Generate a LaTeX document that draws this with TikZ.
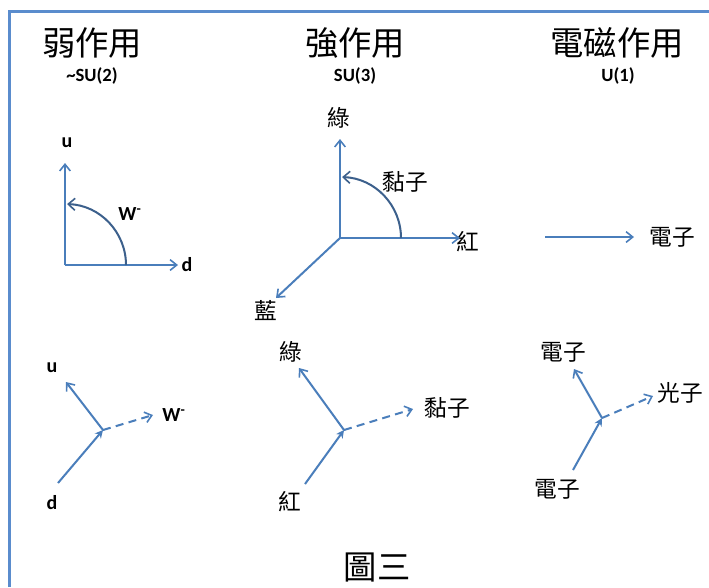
\documentclass[tikz,border=0pt]{standalone}
\usepackage{fontspec}
\setmainfont{Carlito}
\newfontfamily\cjk{Noto Sans CJK TC}
\usetikzlibrary{arrows.meta}
\definecolor{lineblue}{RGB}{74,126,187}
\definecolor{arcblue}{RGB}{60,96,140}
\definecolor{frameblue}{RGB}{90,140,205}
\tikzset{
  vec/.style={draw=lineblue, line width=1.5pt, -{Straight Barb[length=5pt,width=8pt,line width=1.2pt]}},
  vin/.style={draw=lineblue, line width=1.5pt, -{Stealth[length=6pt,width=6pt]}},
  dvec/.style={vec, dash pattern=on 6pt off 4pt},
  arcvec/.style={draw=arcblue, line width=1.5pt, -{Straight Barb[length=5pt,width=9pt,line width=1.2pt]}},
  title/.style={font=\cjk\fontsize{25}{28}\selectfont, inner sep=0pt},
  sub/.style={font=\bfseries\fontsize{14}{16}\selectfont, inner sep=0pt},
  lat/.style={font=\bfseries\fontsize{15}{17}\selectfont, inner sep=0pt},
  zh/.style={font=\cjk\fontsize{17}{19}\selectfont, inner sep=0pt},
}
\begin{document}
\begin{tikzpicture}[x=0.75pt,y=-0.75pt]
\useasboundingbox (0,0) rectangle (709,587);
\fill[white] (0,0) rectangle (709,587);
% frame
\coordinate (fb) at (9.5,587);
\coordinate (fc) at (9.5,11.5);
\coordinate (fr) at (709,11.5);
\draw[frameblue, line width=1.8pt] (fb) -- (fc) -- (fr);

% titles
\node[title] (t1) at (92,43) {弱作用};
\node[title] (t2) at (355,43) {強作用};
\node[title] (t3) at (617,43) {電磁作用};
\node[sub] (s1) at (92,76) {\textasciitilde SU(2)};
\node[sub] (s2) at (355,76) {SU(3)};
\node[sub] (s3) at (618,76) {U(1)};

% weak top
\coordinate (wo) at (65,265);
\coordinate (wu) at (65,163);
\coordinate (wd) at (178,265);
\node[lat] (lu1) at (67,143) {u};
\node[lat] (ld1) at (187,265) {d};
\node[lat] (lw1) at (130,214) {W\textsuperscript{-}};
\draw[vec] (wo) -- (wu);
\draw[vec] (wo) -- (wd);
\draw[arcvec] (126,265) arc[start angle=0, end angle=-88, radius=61];

% strong top
\coordinate (so) at (340,238);
\coordinate (sg) at (340,139);
\coordinate (sr) at (460,238);
\coordinate (sb) at (276,298);
\node[zh] (lg1) at (339,118) {綠};
\node[zh] (lr1) at (468,242) {紅};
\node[zh] (lb1) at (266,311) {藍};
\node[zh] (lgl1) at (405,182) {黏子};
\draw[vec] (so) -- (sg);
\draw[vec] (so) -- (sr);
\draw[vec] (so) -- (sb);
\draw[arcvec] (401,238) arc[start angle=0, end angle=-88, radius=61];

% EM top
\coordinate (ea) at (545,237);
\coordinate (eb) at (634,237);
\node[zh] (le1) at (672,237) {電子};
\draw[vec] (ea) -- (eb);

% weak bottom
\coordinate (wv) at (103,430);
\coordinate (wut) at (66,382);
\coordinate (wds) at (58,483);
\coordinate (wwt) at (153,415);
\node[lat] (lu2) at (52,368) {u};
\node[lat] (ld2) at (52,503) {d};
\node[lat] (lw2) at (174,415) {W\textsuperscript{-}};
\draw[vin] (wds) -- (wv);
\draw[vec] (wv) -- (wut);
\draw[dvec] (wv) -- (wwt);

% strong bottom
\coordinate (sv) at (344,430);
\coordinate (sgt) at (299,368);
\coordinate (srs) at (305,484);
\coordinate (sgl) at (413,409);
\node[zh] (lg2) at (291,352) {綠};
\node[zh] (lr2) at (290,502) {紅};
\node[zh] (lgl2) at (447,408) {黏子};
\draw[vin] (srs) -- (sv);
\draw[vec] (sv) -- (sgt);
\draw[dvec] (sv) -- (sgl);

% EM bottom
\coordinate (ev) at (602,418);
\coordinate (eut) at (574,369);
\coordinate (ebs) at (573,470);
\coordinate (ept) at (653,396);
\node[zh] (le2) at (563,352) {電子};
\node[zh] (lp) at (680,393) {光子};
\node[zh] (le3) at (557,489) {電子};
\draw[vin] (ebs) -- (ev);
\draw[vec] (ev) -- (eut);
\draw[dvec] (ev) -- (ept);

% caption
\node[title] (cap) at (377,567) {圖三};
\end{tikzpicture}
\end{document}
